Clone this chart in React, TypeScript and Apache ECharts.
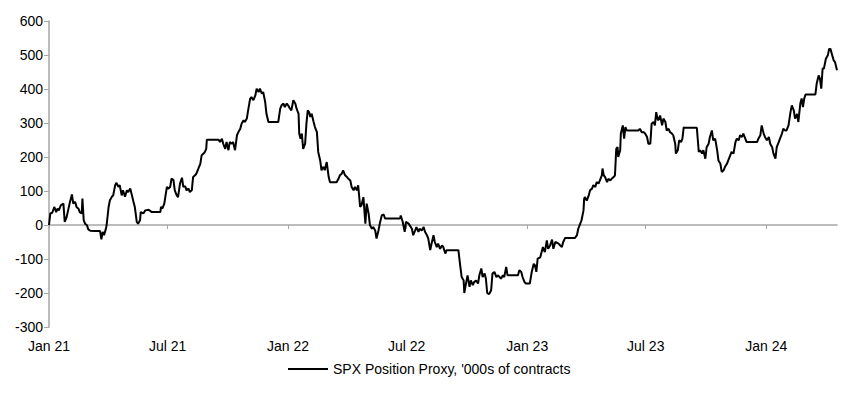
import React, { useEffect, useRef } from "react";
import * as echarts from "echarts";

const seriesName = "SPX Position Proxy, '000s of contracts";

const dates2021 = [
  "2021-01-01","2021-01-03","2021-01-06","2021-01-09","2021-01-12","2021-01-14","2021-01-16","2021-01-19","2021-01-23","2021-01-25",
  "2021-01-28","2021-02-02","2021-02-05","2021-02-07","2021-02-10","2021-02-12","2021-02-15","2021-02-17","2021-02-20","2021-02-21",
  "2021-02-23","2021-02-25","2021-02-28","2021-03-02","2021-03-05","2021-03-12","2021-03-20","2021-03-22","2021-03-24","2021-03-26",
  "2021-03-29","2021-03-30","2021-04-02","2021-04-04","2021-04-07","2021-04-09","2021-04-12","2021-04-14","2021-04-17","2021-04-19",
  "2021-04-22","2021-04-24","2021-04-27","2021-04-30","2021-05-02","2021-05-05","2021-05-07","2021-05-10","2021-05-12","2021-05-15",
  "2021-05-17","2021-05-20","2021-05-21","2021-05-25","2021-05-28","2021-06-02","2021-06-07","2021-06-20","2021-06-21","2021-06-23",
  "2021-06-26","2021-06-30","2021-07-02","2021-07-05","2021-07-07","2021-07-10","2021-07-12","2021-07-15","2021-07-17","2021-07-20",
  "2021-07-23","2021-07-25","2021-07-28","2021-07-30","2021-08-02","2021-08-04","2021-08-07","2021-08-09","2021-08-12","2021-08-14",
  "2021-08-17","2021-08-20","2021-08-22","2021-08-25","2021-08-27","2021-08-29","2021-08-30","2021-09-17","2021-09-19","2021-09-22",
  "2021-09-24","2021-09-27","2021-09-29","2021-10-02","2021-10-04","2021-10-07","2021-10-09","2021-10-12","2021-10-15","2021-10-17",
  "2021-10-20","2021-10-22","2021-10-25","2021-10-27","2021-10-30","2021-11-01","2021-11-04","2021-11-06","2021-11-09","2021-11-12",
  "2021-11-14","2021-11-17","2021-11-19","2021-11-22","2021-11-24","2021-11-27","2021-11-29","2021-12-02","2021-12-17","2021-12-20",
  "2021-12-22","2021-12-25","2021-12-27","2021-12-30"
];
const values2021 = [
  0,34,36,53,38,48,43,58,63,9,
  24,68,90,63,68,53,48,38,34,78,
  14,4,-1,-13,-17,-18,-18,-42,-20,-30,
  -10,0,53,73,83,87,117,124,112,117,
  87,102,83,102,97,107,92,68,53,9,
  4,14,38,34,43,45,38,38,53,48,
  63,112,107,112,136,133,102,87,82,122,
  139,112,114,102,107,97,102,141,146,151,
  166,180,205,210,215,224,251,251,244,254,
  239,224,244,220,244,239,244,220,264,273,
  283,298,308,303,313,337,371,376,367,381,
  401,391,401,386,391,362,327,303,303,342,
  352,357,347,357
];

const dates2022 = [
  "2022-01-01","2022-01-04","2022-01-06","2022-01-09","2022-01-12","2022-01-14","2022-01-17","2022-01-18","2022-01-20","2022-01-22",
  "2022-01-24","2022-01-27","2022-01-29","2022-01-31","2022-02-02","2022-02-04","2022-02-06","2022-02-09","2022-02-11","2022-02-14",
  "2022-02-16","2022-02-19","2022-02-21","2022-02-24","2022-02-26","2022-03-01","2022-03-04","2022-03-06","2022-03-16","2022-03-19",
  "2022-03-21","2022-03-24","2022-03-26","2022-03-29","2022-04-01","2022-04-03","2022-04-06","2022-04-08","2022-04-11","2022-04-13",
  "2022-04-16","2022-04-18","2022-04-21","2022-04-23","2022-04-26","2022-04-29","2022-05-01","2022-05-04","2022-05-06","2022-05-09",
  "2022-05-11","2022-05-14","2022-05-16","2022-05-19","2022-05-21","2022-05-24","2022-05-27","2022-05-29","2022-06-21","2022-06-22",
  "2022-06-25","2022-06-28","2022-06-30","2022-07-04","2022-07-09","2022-07-11","2022-07-14","2022-07-16","2022-07-19","2022-07-21",
  "2022-07-24","2022-07-27","2022-07-29","2022-08-01","2022-08-03","2022-08-06","2022-08-08","2022-08-11","2022-08-13","2022-08-16",
  "2022-08-18","2022-08-21","2022-08-24","2022-08-26","2022-08-29","2022-08-31","2022-09-18","2022-09-21","2022-09-23","2022-09-26",
  "2022-09-27","2022-09-30","2022-10-02","2022-10-05","2022-10-07","2022-10-10","2022-10-12","2022-10-15","2022-10-18","2022-10-20",
  "2022-10-23","2022-10-25","2022-10-28","2022-10-30","2022-11-01","2022-11-04","2022-11-07","2022-11-09","2022-11-12","2022-11-15",
  "2022-11-17","2022-11-20","2022-11-22","2022-11-25","2022-11-27","2022-11-30","2022-12-02","2022-12-18","2022-12-20","2022-12-23",
  "2022-12-25","2022-12-28","2022-12-30"
];
const values2022 = [
  352,342,337,367,357,342,327,269,254,269,
  224,239,298,337,332,318,327,303,288,273,
  215,190,161,171,161,185,141,126,126,136,
  146,151,161,146,141,136,131,112,102,112,
  102,117,53,58,82,4,63,33,-1,-11,
  -6,-16,-40,-16,4,28,31,19,19,28,
  9,-20,9,4,-11,-30,-16,-6,-20,-11,
  -16,-6,-20,-30,-40,-74,-55,-30,-50,-65,
  -55,-70,-60,-65,-84,-74,-74,-123,-153,-163,
  -200,-168,-148,-182,-163,-177,-168,-163,-172,-148,
  -128,-153,-143,-158,-200,-203,-192,-143,-138,-153,
  -148,-153,-158,-148,-153,-123,-148,-148,-133,-138,
  -153,-168,-172
];

const dates2023 = [
  "2023-01-05","2023-01-08","2023-01-11","2023-01-13","2023-01-15","2023-01-17","2023-01-21","2023-01-25","2023-01-28","2023-01-31",
  "2023-02-02","2023-02-05","2023-02-08","2023-02-10","2023-02-13","2023-02-18","2023-02-23","2023-02-25","2023-02-28","2023-03-15",
  "2023-03-18","2023-03-20","2023-03-23","2023-03-25","2023-03-28","2023-03-29","2023-03-30","2023-04-02","2023-04-05","2023-04-07",
  "2023-04-10","2023-04-12","2023-04-15","2023-04-17","2023-04-20","2023-04-22","2023-04-25","2023-04-26","2023-04-28","2023-04-30",
  "2023-05-03","2023-05-05","2023-05-08","2023-05-10","2023-05-13","2023-05-15","2023-05-17","2023-05-19","2023-05-20","2023-05-23",
  "2023-05-24","2023-05-27","2023-05-29","2023-05-31","2023-06-02","2023-06-05","2023-06-20","2023-06-22","2023-06-25","2023-06-28",
  "2023-06-30","2023-07-03","2023-07-05","2023-07-08","2023-07-10","2023-07-13","2023-07-15","2023-07-17","2023-07-19","2023-07-20",
  "2023-07-23","2023-07-26","2023-07-28","2023-07-31","2023-08-02","2023-08-05","2023-08-07","2023-08-10","2023-08-12","2023-08-15",
  "2023-08-16","2023-08-19","2023-08-21","2023-08-24","2023-08-26","2023-08-28","2023-08-29","2023-09-17","2023-09-20","2023-09-22",
  "2023-09-25","2023-09-27","2023-09-30","2023-10-02","2023-10-05","2023-10-07","2023-10-10","2023-10-12","2023-10-15","2023-10-18",
  "2023-10-20","2023-10-23","2023-10-25","2023-10-28","2023-10-30","2023-11-02","2023-11-04","2023-11-07","2023-11-09","2023-11-12",
  "2023-11-15","2023-11-17","2023-11-20","2023-11-22","2023-11-25","2023-11-27","2023-11-30","2023-12-02","2023-12-18","2023-12-20",
  "2023-12-23","2023-12-25","2023-12-28","2023-12-30"
];
const values2023 = [
  -172,-138,-114,-119,-138,-99,-95,-65,-80,-45,
  -70,-60,-43,-70,-50,-55,-65,-50,-38,-38,
  -30,-11,4,14,43,77,82,72,87,102,
  107,117,112,126,122,131,146,166,146,141,
  126,136,131,136,141,146,224,229,200,220,
  269,293,254,288,278,278,278,283,273,273,
  269,259,239,239,298,303,293,332,313,308,
  322,293,313,303,278,283,273,269,264,239,
  210,220,249,244,254,288,286,286,215,220,
  210,220,195,229,239,259,278,249,254,220,
  190,180,156,161,171,180,190,205,215,210,
  244,254,249,264,259,269,254,244,244,254,
  264,293,269,259
];

const dates2024 = [
  "2024-01-02","2024-01-05","2024-01-07","2024-01-10","2024-01-12","2024-01-15","2024-01-17","2024-01-20","2024-01-22","2024-01-25",
  "2024-01-27","2024-01-30","2024-02-01","2024-02-04","2024-02-07","2024-02-09","2024-02-12","2024-02-14","2024-02-17","2024-02-19",
  "2024-02-22","2024-02-24","2024-02-26","2024-02-28","2024-03-01","2024-03-16","2024-03-18","2024-03-21","2024-03-23","2024-03-25",
  "2024-03-27","2024-03-29","2024-04-01","2024-04-04","2024-04-06","2024-04-08","2024-04-10","2024-04-13","2024-04-15","2024-04-18"
];
const values2024 = [
  249,259,239,229,210,195,229,244,254,269,
  283,278,278,293,332,352,337,313,327,303,
  357,372,347,372,384,384,416,440,430,401,
  460,460,489,499,518,518,504,484,479,455
];

const xTickDates = ["2021-01-01","2021-07-01","2022-01-01","2022-07-01","2023-01-01","2023-07-01","2024-01-01"];
const xStart = "2021-01-01";
const xEnd = "2024-04-18";
const monthNames = ["Jan","Feb","Mar","Apr","May","Jun","Jul","Aug","Sep","Oct","Nov","Dec"];
const yMin = -300;
const yMax = 600;
const yStep = 100;

function ts(s: string): number {
  const [y, m, d] = s.split("-").map(Number);
  return new Date(y, m - 1, d).getTime();
}

const FONT = "'Liberation Sans', Arial, sans-serif";
const AXIS_GRAY = "#a6a6a6";

export default function App() {
  const ref = useRef<HTMLDivElement>(null);

  useEffect(() => {
    if (!ref.current) return;
    const chart = echarts.init(ref.current, undefined, { renderer: "svg" });
    const allDates = [...dates2021, ...dates2022, ...dates2023, ...dates2024];
    const allValues = [...values2021, ...values2022, ...values2023, ...values2024];
    const data = allDates.map((d, i) => [ts(d), allValues[i]]);
    const tickVals = xTickDates.map(ts);
    const fmt = (v: number) => {
      const dt = new Date(v);
      return `${monthNames[dt.getMonth()]} ${String(dt.getFullYear()).slice(2)}`;
    };

    chart.setOption({
      animation: false,
      backgroundColor: "#ffffff",
      textStyle: { fontFamily: FONT },
      grid: { left: 49, right: 15, top: 21, bottom: 71, outerBoundsMode: "none" },
      legend: {
        data: [seriesName],
        left: 283,
        top: 357,
        icon: "rect",
        itemWidth: 40,
        itemHeight: 2,
        itemGap: 5,
        textStyle: { color: "#000", fontSize: 14, fontFamily: FONT },
      },
      xAxis: [
        {
          type: "value",
          min: ts(xStart),
          max: ts(xEnd),
          position: "bottom",
          axisLine: { show: true, onZero: true, lineStyle: { color: AXIS_GRAY, width: 1.5 } },
          axisTick: { show: true, inside: false, length: 4, customValues: tickVals, lineStyle: { color: AXIS_GRAY, width: 1 } },
          axisLabel: { show: false },
          splitLine: { show: false },
        },
        {
          type: "value",
          min: ts(xStart),
          max: ts(xEnd),
          position: "bottom",
          axisLine: { show: false, onZero: false },
          axisTick: { show: false },
          axisLabel: {
            show: true,
            customValues: tickVals,
            formatter: fmt,
            color: "#000",
            fontSize: 14,
            fontFamily: FONT,
            margin: 12,
          },
          splitLine: { show: false },
        },
      ],
      yAxis: {
        type: "value",
        min: yMin,
        max: yMax,
        interval: yStep,
        axisLine: { show: true, onZero: false, lineStyle: { color: AXIS_GRAY, width: 1.5 } },
        axisTick: { show: true, length: 5, lineStyle: { color: AXIS_GRAY, width: 1 } },
        axisLabel: { color: "#000", fontSize: 14, fontFamily: FONT, margin: 6 },
        splitLine: { show: false },
      },
      series: [
        {
          name: seriesName,
          type: "line",
          xAxisIndex: 0,
          data,
          showSymbol: false,
          symbol: "none",
          lineStyle: { color: "#000", width: 2 },
          itemStyle: { color: "#000" },
          z: 3,
        },
      ],
    });
    return () => chart.dispose();
  }, []);

  return (
    <div
      ref={ref}
      style={{ position: "fixed", left: 0, top: 0, width: 852, height: 398, background: "#fff" }}
    />
  );
}
